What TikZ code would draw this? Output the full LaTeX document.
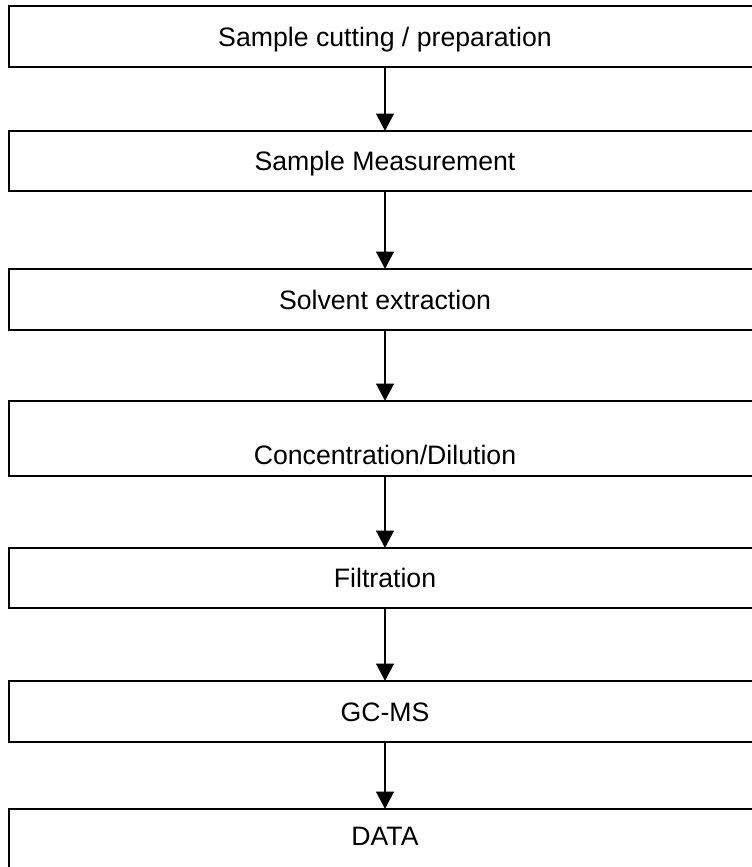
\documentclass[tikz,border=0pt]{standalone}
\usepackage{fontspec}
\setmainfont{Liberation Sans}
\usetikzlibrary{arrows.meta}
\tikzset{
  stepbox/.style={draw=black, line width=1.7pt, fill=none, rectangle, inner sep=0pt, outer sep=0pt,
    minimum width=564pt, font=\fontsize{20}{24}\selectfont, text height=14.3pt, text depth=0pt, anchor=center},
  flow/.style={line width=2.2pt, -{Triangle[width=13pt,length=13pt]}, shorten >=0pt}
}
\begin{document}
\begin{tikzpicture}[x=0.75pt,y=-0.75pt]
\useasboundingbox (0,0) rectangle (752,867);
\clip (0,0) rectangle (752,867);
\node[stepbox, minimum height=45.75pt] (b1) at (385,36.5) {Sample cutting / preparation};
\node[stepbox, minimum height=45pt] (b2) at (385,161) {Sample Measurement};
\node[stepbox, minimum height=45.75pt] (b3) at (385,299.5) {Solvent extraction};
\node[stepbox, minimum height=56.25pt, text height=39pt] (b4) at (385,438.5) {Concentration/Dilution};
\node[stepbox, minimum height=45pt] (b5) at (385,578) {Filtration};
\node[stepbox, minimum height=48pt, text depth=7.5pt] (b7) at (385,841) {DATA};
\node[stepbox, minimum height=45.75pt] (b6) at (385,711.5) {GC-MS};
\draw[flow] (b1.south) -- (b2.north);
\draw[flow] (b2.south) -- (b3.north);
\draw[flow] (b3.south) -- (b4.north);
\draw[flow] (b4.south) -- (b5.north);
\draw[flow] (b5.south) -- (b6.north);
\draw[flow] (b6.south) -- (b7.north);
\end{tikzpicture}
\end{document}
